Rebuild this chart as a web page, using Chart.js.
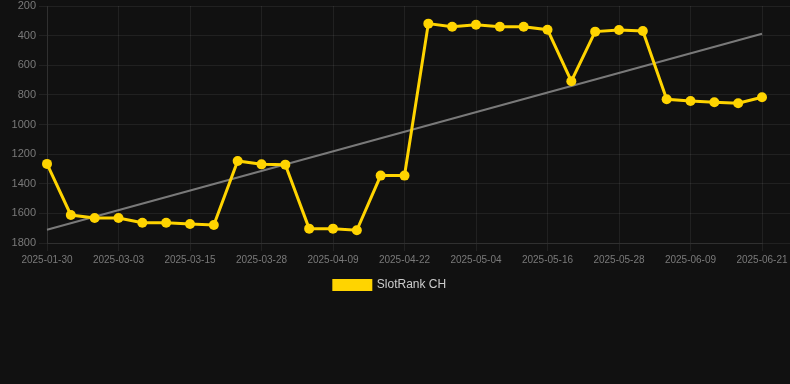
<!DOCTYPE html>
<html>
<head>
<meta charset="utf-8">
<script src="https://cdn.jsdelivr.net/npm/chart.js@4.4.0/dist/chart.umd.min.js"></script>
<style>
  html, body { margin: 0; padding: 0; background: #111111; }
  #wrap { width: 790px; height: 301px; position: relative; }
</style>
</head>
<body>
<div id="wrap"><canvas id="rankChart"></canvas></div>
<script>
// Dates (only every 3rd one is shown on the axis)
const dates = [
  '2025-01-30', '2025-02-10', '2025-02-21', '2025-03-03', '2025-03-07', '2025-03-11',
  '2025-03-15', '2025-03-19', '2025-03-24', '2025-03-28', '2025-04-01', '2025-04-05',
  '2025-04-09', '2025-04-13', '2025-04-18', '2025-04-22', '2025-04-26', '2025-04-30',
  '2025-05-04', '2025-05-08', '2025-05-12', '2025-05-16', '2025-05-20', '2025-05-24',
  '2025-05-28', '2025-06-01', '2025-06-05', '2025-06-09', '2025-06-13', '2025-06-17',
  '2025-06-21'
];
const rankValues = [
  1266, 1611, 1631, 1631, 1663, 1663, 1672, 1678, 1246, 1269, 1271,
  1703, 1703, 1714, 1345, 1345, 319, 340, 326, 340, 340,
  360, 708, 373, 362, 369, 830, 841, 850, 857, 816
];
const trendDates = ['2025-01-30', '2025-06-21'];
const trendValues = [1710, 387];
const yTicks = [200, 400, 600, 800, 1000, 1200, 1400, 1600, 1800];

const gridColor = 'rgba(255,255,255,0.07)';
const tickColor = '#7a7a7a';
const fontFamily = 'Arial, "Liberation Sans", sans-serif';

document.addEventListener('DOMContentLoaded', () => {
  const ctx = document.getElementById('rankChart').getContext('2d');

  new Chart(ctx, {
    type: 'line',
    data: {
      labels: dates,
      datasets: [
        {
          label: 'SlotRank CH',
          data: rankValues,
          borderColor: '#FFD400',
          backgroundColor: '#FFD400',
          borderWidth: 3,
          pointRadius: 5,
          pointHoverRadius: 6,
          pointBackgroundColor: '#FFD400',
          pointBorderWidth: 0,
          tension: 0,
          order: 1
        },
        {
          label: 'Trend',
          data: trendDates.map((d, i) => ({ x: d, y: trendValues[i] })),
          borderColor: 'rgba(140,140,140,0.85)',
          borderWidth: 2,
          pointRadius: 0,
          tension: 0,
          order: 2
        }
      ]
    },
    options: {
      responsive: true,
      maintainAspectRatio: false,
      animation: false,
      layout: { padding: { top: 0, left: 0, right: 10 } },
      plugins: {
        legend: {
          position: 'bottom',
          labels: {
            color: '#cccccc',
            font: { family: fontFamily, size: 12 },
            boxWidth: 37,
            boxHeight: 9,
            filter: (item) => item.text !== 'Trend'
          }
        },
        tooltip: { enabled: false }
      },
      scales: {
        x: {
          grid: { color: gridColor, tickLength: 8 },
          border: { color: gridColor },
          afterFit: (axis) => { axis.paddingRight = 18; },
          ticks: {
            color: tickColor,
            font: { family: fontFamily, size: 10 },
            maxRotation: 0,
            minRotation: 0,
            autoSkip: true,
            maxTicksLimit: 11
          }
        },
        y: {
          reverse: true,
          min: yTicks[0],
          max: yTicks[yTicks.length - 1],
          grid: { color: gridColor, tickLength: 8 },
          border: { color: gridColor },
          afterBuildTicks: (axis) => { axis.ticks = yTicks.map(v => ({ value: v })); },
          afterFit: (axis) => { axis.width = 47; },
          ticks: {
            color: tickColor,
            font: { family: fontFamily, size: 11, lineHeight: 0.545 },
            padding: 3,
            callback: (v) => String(v)
          }
        },
        yRight: {
          position: 'right',
          reverse: true,
          min: yTicks[0],
          max: yTicks[yTicks.length - 1],
          afterBuildTicks: (axis) => { axis.ticks = yTicks.map(v => ({ value: v })); },
          afterFit: (axis) => { axis.width = 18; },
          grid: { color: gridColor, drawOnChartArea: false, tickLength: 28 },
          border: { display: false },
          ticks: { display: false }
        }
      }
    }
  });
});
</script>
</body>
</html>
